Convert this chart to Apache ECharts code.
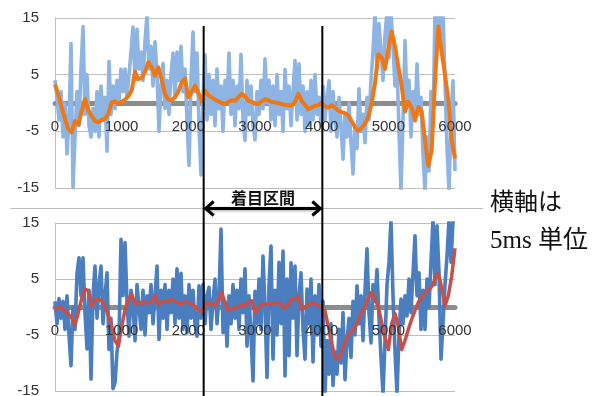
<!DOCTYPE html>
<html>
<head>
<meta charset="utf-8">
<script src="https://cdn.jsdelivr.net/npm/echarts@6/dist/echarts.min.js"></script>
<style>
  html, body { margin: 0; padding: 0; background: #fff; }
  #chart { width: 594px; height: 396px; }
</style>
</head>
<body>
<div id="chart"></div>
<script>
// x は 30 / 50 刻み（5ms 単位）
const NOISE_STEP = 30
const SMOOTH_STEP = 50
const xTicks = [0, 1000, 2000, 3000, 4000, 5000, 6000]
const yTicks = [15, 5, -5, -15]
const focusRange = [2230, 4010] // 着目区間

// 上段: 生データ（水色）
const noiseTop = [
  4, 1, -3, 2, -6, 0, -9, -3, 10.5, -15,
  -6, 2, -4, 6, 13.5, -2, 5, -4, -6, -1,
  -5, 2, -6, 3, -3, 1, -8.5, 7.3, -2, 3,
  -1, 4, 0, 6, 2, 6, 1, 5, 9, 13.4,
  4, 13, 6, 9, 4, 11, 15.5, 6, 10, 3,
  10.8, 5, -5, 3, 7, -1, 4, -2, 5, 8.8,
  1, 9, 4, 10, 2, 6, -3, -11, 4, 12.5,
  2, 8.8, -4, -12.7, 1, 8.5, -3, 5, -2, 4,
  -4, 6, -1, 3, -5, 4, 0, 8.8, -2, 4,
  -4, 3, -1, 8.6, -3, -6.6, 4, -2, 3, -4,
  -6.5, 2, -2, 4, -1, 7.8, 0, 4, -3, 3,
  -4, 5, -2, 2, -5, 5.9, -1, 3, -4, 2,
  7.5, -3, 6.9, -2, 3, -5, 2, -4, 4, -3,
  5, -2, 1, -4, 3, -3, 1, 3.9, -5, 2,
  -3, -6, 1, -4, -9.9, -2, -6, 0, -7, -12.5,
  -4, -8, 2.5, -5, -2, -7, 1, -3, 4, 9,
  16, 6, 14, 9, 4, 12, 16, 8, 16, 10,
  3, 7, -5, -15.5, -3, 11, 0, 4, -6, 2,
  -3, 6.9, -2, 1, -9, -15.5, -6, -12, 2, -4,
  16, 10, 16, 12, 16, 4, -8, -15.5, -3, 3.9,
  -12
]
// 上段: 平滑（オレンジ）
const smoothTop = [
  3.3, 1.5, -0.8, -2.8, -4.6, -5.2, -3.2, -3.8, -1.5, 0.7,
  -1.3, -2.3, -3.2, -3.4, -3.0, -2.8, -1.9, 0.1, 0.3, -0.2,
  0.2, 0.6, 1.2, 2.2, 5.5, 4.2, 4.4, 5.5, 7.2, 6.3,
  4.8, 6.3, 4.2, 1.6, 0.6, 0.5, 1.0, 2.0, 3.6, 4.3,
  1.0, 1.9, 3.1, 1.8, 0.3, 2.2, 1.4, 1.0, 0.6, 0.3,
  0.0, -0.2, 0.2, 0.5, 0.4, 1.0, 1.6, 1.2, 0.4, 0.2,
  -0.1, -0.2, 0.3, 0.7, 0.5, 0.2, 0.1, 0.0, -0.2, -0.3,
  -0.4, -0.5, 0.2, 1.6, 0.4, -0.3, -1.1, -0.8, -0.5, -0.4,
  0.0, -0.6, -0.8, -0.4, -0.8, -1.4, -1.6, -1.8, -2.2, -3.2,
  -4.3, -4.9, -4.4, -3.6, -2.4, 0.0, 3.5, 8.6, 8.0, 6.0,
  9.5, 12.6, 10.0, 6.4, 3.0, -1.5, 0.2, -0.8, -3.1, -0.7,
  -1.5, -6.6, -11.1, -8.4, 3.9, 13.5, 9.0, 5.0, 0.5, -6.5,
  -9.8
]
// 下段: 生データ（青）
const noiseBottom = [
  1, -3, 1.5, -2, 1, -4, 2, -5, -10.5, 0,
  -4, 6, 8.8, 2, 8.8, -1, -7.5, 3, -12.9, 2,
  7.3, -2, 4, 7.3, -3, 2, 6.1, -7.6, -2, -14.6,
  -13.5, -8, -5.5, 12.1, 2, 11.5, 1, -5.2, 3, 0.2,
  -6, 4, 0, -4, 3, -5, 2, -1, 4, -3,
  2, 7.3, -5.8, 3, -2, 4, -4, 3, -1, 5,
  -3, 6.8, -2, 6, -4, 2, -4.6, 4, -2, 3,
  -3, -5.2, 3.8, -2, 4, -3, 2, 3.5, -4, 1,
  5, -3, 2, 13.9, -4.6, 1, -7, 2, -3, 4,
  -2, 3, -4, 5, -1, 6.8, -7, 2, -5, -13.2,
  2.8, -3, 5, -4, 9.1, 0, -12.6, 4, 10.9, -9.3,
  3, -5, 8, -3, 10, -12.3, 5, -8.7, 7.9, -2,
  7.3, -8.7, 2, 6.1, -4, -9.3, 3.2, -3, 5, -9.8,
  2, -5, 4, -7, 1, -15.5, -6, -12, -3, -14,
  -8, -12, -4, -10, -1, -13, -6, -2, -9, 1,
  -5, 3.8, -3, 2, -6, 3, 10.4, -1, -6.4, 4,
  1, 6.7, -2, -9, -15.5, -6, 4, 8, 15.5, 2,
  -8, -15.5, -5, 1.4, -3, 2, -1.6, 5, -1, 6,
  12.7, 2, 6.1, -4, 3, -4, 5, 0, 8, 15.5,
  4, 14.5, 6, -9.3, -3, 4, 9.1, 15.5, 8, 15.5,
  15.5
]
// 下段: 平滑（赤）
const smoothBottom = [
  -0.7, 0.0, -0.2, -0.7, -1.3, -1.9, -3.2, -1.0, 1.5, 3.2,
  2.9, 0.2, 1.2, 1.4, 1.1, 0.2, -1.5, -3.4, -6.0, -7.0,
  -3.5, -0.5, 1.4, 2.3, 0.5, 0.9, 0.6, 0.9, 0.7, 1.0,
  2.0, 0.5, 0.8, 1.1, 0.9, 1.4, 1.0, 0.7, 0.5, 0.9,
  0.8, 0.5, 0.0, -0.4, -1.0, 0.2, 0.8, 0.5, 0.2, 1.2,
  2.6, 0.8, -0.7, -0.3, -0.1, 0.0, 0.3, 0.2, 0.8, 1.1,
  -1.0, -0.2, 0.5, 0.4, 0.6, 0.5, 0.7, 0.8, 0.3, -0.2,
  0.4, 1.4, 1.5, 2.0, -0.4, 0.0, 0.3, 0.8, 0.6, 0.2,
  0.0, -0.7, -3.5, -6.4, -9.0, -9.3, -8.0, -6.4, -5.0, -4.3,
  -3.7, -2.3, -1.0, 0.2, 1.6, 2.6, 1.5, 0.0, -2.8, -5.5,
  -7.6, -3.0, -1.2, -3.5, -7.6, -6.0, -4.0, -2.2, -0.6, 0.8,
  1.8, 2.5, 3.0, 3.6, 5.0, 6.0, 3.5, 0.2, 2.0, 5.5,
  10.5
]

const toPairs = (arr, step) => arr.map((v, i) => [i * step, v])

const labelFont = { fontSize: 15, color: '#333', fontFamily: 'Liberation Sans, Arial, sans-serif' }

// 線だけの x 軸（系列の下）とラベルだけの x 軸（系列の上）
function makeXAxis(gridIndex, forLabels) {
  return {
    type: 'value',
    gridIndex: gridIndex,
    position: 'bottom',
    offset: 0,
    z: forLabels ? 10 : 0,
    min: xTicks[0],
    max: xTicks[xTicks.length - 1],
    interval: 1000,
    axisLine: { show: !forLabels, onZero: false, lineStyle: { color: '#8c8c8c', width: 5 } },
    axisTick: { show: false },
    splitLine: { show: false },
    axisLabel: Object.assign({ show: forLabels, margin: 16, formatter: function (v) { return String(v) } }, labelFont),
  }
}

function makeYAxis(gridIndex) {
  return {
    type: 'value',
    gridIndex: gridIndex,
    min: -15,
    max: 15,
    interval: 5,
    axisLine: { show: true, lineStyle: { color: '#bfbfbf', width: 1 } },
    axisTick: { show: false },
    // -15, -5, 5, 15 のみ線を出す
    splitLine: { show: true, lineStyle: { color: ['#bfbfbf', 'rgba(0,0,0,0)'], width: 1 } },
    axisLabel: Object.assign({
      margin: 16,
      formatter: function (v) { return yTicks.indexOf(v) >= 0 ? String(v) : '' },
    }, labelFont),
  }
}

function lineSeries(name, idx, data, color, width, z) {
  return {
    name: name,
    type: 'line',
    xAxisIndex: idx,
    yAxisIndex: idx,
    data: data,
    showSymbol: false,
    symbol: 'none',
    clip: true,
    z: z,
    lineStyle: { color: color, width: width, join: 'round' },
  }
}

const grids = [
  { left: 55, top: 18, width: 400, height: 170, outerBoundsMode: 'none', containLabel: false },
  { left: 55, top: 223, width: 400, height: 168, outerBoundsMode: 'none', containLabel: false },
]

const chart = echarts.init(document.getElementById('chart'))
chart.setOption({
  animation: false,
  backgroundColor: '#fff',
  grid: grids,
  xAxis: [makeXAxis(0, false), makeXAxis(1, false), makeXAxis(0, true), makeXAxis(1, true)],
  yAxis: [makeYAxis(0), makeYAxis(1)],
  series: [
    lineSeries('raw1', 0, toPairs(noiseTop, NOISE_STEP), '#8db4e3', 3.6, 2),
    lineSeries('smooth1', 0, toPairs(smoothTop, SMOOTH_STEP), '#ee7716', 4, 3),
    lineSeries('raw2', 1, toPairs(noiseBottom, NOISE_STEP), '#4a7ebf', 3.6, 2),
    lineSeries('smooth2', 1, toPairs(smoothBottom, SMOOTH_STEP), '#c8504a', 3.5, 3),
  ],
})

// x 軸（ラベル込み）を y=0 の位置へ移す
const zeroOffsets = grids.map((g, i) => {
  const y0 = chart.convertToPixel({ yAxisIndex: i }, 0)
  return -(g.top + g.height - y0)
})
chart.setOption({
  xAxis: [
    { offset: zeroOffsets[0] }, { offset: zeroOffsets[1] },
    { offset: zeroOffsets[0] }, { offset: zeroOffsets[1] },
  ],
})

// 着目区間の縦線と矢印
const xa = chart.convertToPixel({ xAxisIndex: 0 }, focusRange[0])
const xb = chart.convertToPixel({ xAxisIndex: 0 }, focusRange[1])
const arrowY = 208.5
const txtFont = 'Noto Sans CJK JP'
chart.setOption({
  graphic: [
    { type: 'line', z: 50, shape: { x1: 10, y1: arrowY, x2: 483, y2: arrowY }, style: { stroke: '#bfbfbf', lineWidth: 1 } },
    { type: 'line', z: 60, shape: { x1: xa, y1: 26, x2: xa, y2: 396 }, style: { stroke: '#000', lineWidth: 2 } },
    { type: 'line', z: 60, shape: { x1: xb, y1: 26, x2: xb, y2: 396 }, style: { stroke: '#000', lineWidth: 2 } },
    { type: 'line', z: 61, shape: { x1: xa + 2, y1: arrowY, x2: xb - 2, y2: arrowY }, style: { stroke: '#000', lineWidth: 3, shadowBlur: 3, shadowColor: 'rgba(0,0,0,0.35)', shadowOffsetY: 1 } },
    { type: 'polyline', z: 61, shape: { points: [[xa + 10, arrowY - 7], [xa + 2, arrowY], [xa + 10, arrowY + 7]] }, style: { stroke: '#000', fill: null, lineWidth: 3, lineJoin: 'miter' } },
    { type: 'polyline', z: 61, shape: { points: [[xb - 10, arrowY - 7], [xb - 2, arrowY], [xb - 10, arrowY + 7]] }, style: { stroke: '#000', fill: null, lineWidth: 3, lineJoin: 'miter' } },
    { type: 'text', z: 62, x: (xa + xb) / 2, y: 198, style: { text: '着目区間', fill: '#111', font: 'bold 16px "' + txtFont + '"', align: 'center', verticalAlign: 'middle' } },
    { type: 'text', z: 62, x: 490, y: 204, style: { text: '横軸は', fill: '#111', font: '24px "Liberation Serif", "' + txtFont + '"', verticalAlign: 'middle' } },
    { type: 'text', z: 62, x: 490, y: 241, style: { text: '5ms 単位', fill: '#111', font: '25px "Liberation Serif", "' + txtFont + '"', verticalAlign: 'middle' } },
  ],
})
</script>
</body>
</html>
